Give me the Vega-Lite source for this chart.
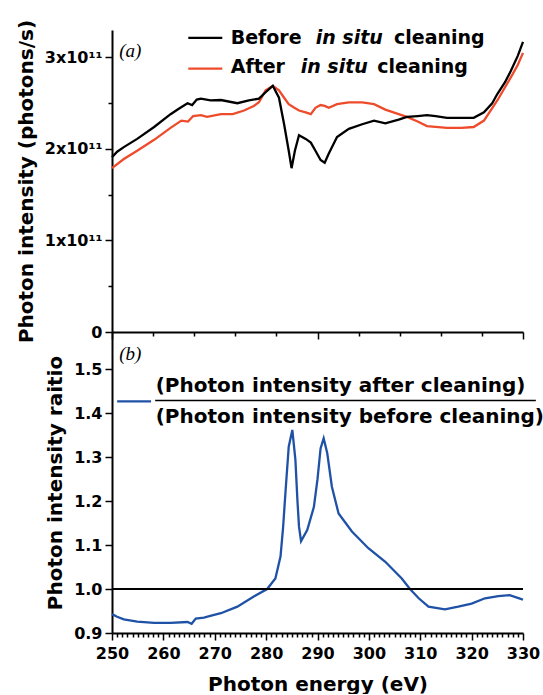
{
  "$schema": "https://vega.github.io/schema/vega-lite/v6.json",
  "padding": {"left": 16, "top": 19, "right": 0, "bottom": 0},
  "spacing": 0,
  "bounds": "flush",
  "config": {
    "view": {"stroke": null},
    "font": "DejaVu Sans",
    "axis": {
      "grid": false,
      "domainColor": "#000000",
      "domainWidth": 2,
      "tickColor": "#000000",
      "tickWidth": 1.5,
      "tickSize": 7,
      "labelColor": "#000000",
      "labelFont": "DejaVu Sans",
      "labelFontSize": 16,
      "labelFontWeight": "bold",
      "labelFlush": false,
      "labelPadding": 3,
      "titleColor": "#000000",
      "titleFont": "DejaVu Sans",
      "titleFontSize": 20,
      "titleFontWeight": "bold"
    }
  },
  "datasets": {
    "intensity": [
      {"series": "After", "energy": 250, "intensity": 1.79e11},
      {"series": "After", "energy": 252.3, "intensity": 1.89e11},
      {"series": "After", "energy": 254.9, "intensity": 1.98e11},
      {"series": "After", "energy": 258.2, "intensity": 2.10e11},
      {"series": "After", "energy": 261.4, "intensity": 2.23e11},
      {"series": "After", "energy": 263.5, "intensity": 2.31e11},
      {"series": "After", "energy": 264.8, "intensity": 2.30e11},
      {"series": "After", "energy": 265.8, "intensity": 2.36e11},
      {"series": "After", "energy": 267.3, "intensity": 2.37e11},
      {"series": "After", "energy": 268.5, "intensity": 2.35e11},
      {"series": "After", "energy": 271.2, "intensity": 2.38e11},
      {"series": "After", "energy": 273.5, "intensity": 2.38e11},
      {"series": "After", "energy": 275.7, "intensity": 2.42e11},
      {"series": "After", "energy": 277.6, "intensity": 2.47e11},
      {"series": "After", "energy": 278.6, "intensity": 2.51e11},
      {"series": "After", "energy": 279.9, "intensity": 2.64e11},
      {"series": "After", "energy": 281.3, "intensity": 2.69e11},
      {"series": "After", "energy": 282.5, "intensity": 2.64e11},
      {"series": "After", "energy": 283.5, "intensity": 2.56e11},
      {"series": "After", "energy": 284.4, "intensity": 2.49e11},
      {"series": "After", "energy": 285.5, "intensity": 2.45e11},
      {"series": "After", "energy": 286.4, "intensity": 2.42e11},
      {"series": "After", "energy": 287.7, "intensity": 2.40e11},
      {"series": "After", "energy": 288.7, "intensity": 2.38e11},
      {"series": "After", "energy": 289.6, "intensity": 2.45e11},
      {"series": "After", "energy": 290.6, "intensity": 2.48e11},
      {"series": "After", "energy": 291.4, "intensity": 2.47e11},
      {"series": "After", "energy": 292.2, "intensity": 2.45e11},
      {"series": "After", "energy": 293.8, "intensity": 2.49e11},
      {"series": "After", "energy": 296.1, "intensity": 2.51e11},
      {"series": "After", "energy": 298.7, "intensity": 2.51e11},
      {"series": "After", "energy": 301.0, "intensity": 2.49e11},
      {"series": "After", "energy": 303.2, "intensity": 2.43e11},
      {"series": "After", "energy": 305.8, "intensity": 2.38e11},
      {"series": "After", "energy": 307.4, "intensity": 2.35e11},
      {"series": "After", "energy": 309.5, "intensity": 2.30e11},
      {"series": "After", "energy": 311.3, "intensity": 2.25e11},
      {"series": "After", "energy": 315.2, "intensity": 2.23e11},
      {"series": "After", "energy": 318.0, "intensity": 2.23e11},
      {"series": "After", "energy": 320.4, "intensity": 2.24e11},
      {"series": "After", "energy": 322.4, "intensity": 2.31e11},
      {"series": "After", "energy": 325.0, "intensity": 2.53e11},
      {"series": "After", "energy": 327.6, "intensity": 2.78e11},
      {"series": "After", "energy": 329.0, "intensity": 2.92e11},
      {"series": "After", "energy": 330, "intensity": 3.05e11},
      {"series": "Before", "energy": 250, "intensity": 1.91e11},
      {"series": "Before", "energy": 251, "intensity": 1.97e11},
      {"series": "Before", "energy": 252.3, "intensity": 2.02e11},
      {"series": "Before", "energy": 254.9, "intensity": 2.11e11},
      {"series": "Before", "energy": 258.2, "intensity": 2.24e11},
      {"series": "Before", "energy": 261.4, "intensity": 2.38e11},
      {"series": "Before", "energy": 263.0, "intensity": 2.44e11},
      {"series": "Before", "energy": 264.7, "intensity": 2.50e11},
      {"series": "Before", "energy": 265.6, "intensity": 2.48e11},
      {"series": "Before", "energy": 266.5, "intensity": 2.54e11},
      {"series": "Before", "energy": 267.3, "intensity": 2.55e11},
      {"series": "Before", "energy": 269.2, "intensity": 2.53e11},
      {"series": "Before", "energy": 271.2, "intensity": 2.535e11},
      {"series": "Before", "energy": 274.4, "intensity": 2.50e11},
      {"series": "Before", "energy": 276.65, "intensity": 2.53e11},
      {"series": "Before", "energy": 278.6, "intensity": 2.55e11},
      {"series": "Before", "energy": 279.9, "intensity": 2.62e11},
      {"series": "Before", "energy": 281.3, "intensity": 2.69e11},
      {"series": "Before", "energy": 282.5, "intensity": 2.56e11},
      {"series": "Before", "energy": 283.5, "intensity": 2.27e11},
      {"series": "Before", "energy": 284.4, "intensity": 1.98e11},
      {"series": "Before", "energy": 284.95, "intensity": 1.79e11},
      {"series": "Before", "energy": 285.6, "intensity": 1.98e11},
      {"series": "Before", "energy": 286.4, "intensity": 2.15e11},
      {"series": "Before", "energy": 287.7, "intensity": 2.11e11},
      {"series": "Before", "energy": 288.7, "intensity": 2.07e11},
      {"series": "Before", "energy": 289.6, "intensity": 1.98e11},
      {"series": "Before", "energy": 290.6, "intensity": 1.88e11},
      {"series": "Before", "energy": 291.4, "intensity": 1.85e11},
      {"series": "Before", "energy": 292.2, "intensity": 1.95e11},
      {"series": "Before", "energy": 293.8, "intensity": 2.13e11},
      {"series": "Before", "energy": 296.1, "intensity": 2.22e11},
      {"series": "Before", "energy": 298.7, "intensity": 2.27e11},
      {"series": "Before", "energy": 301.0, "intensity": 2.31e11},
      {"series": "Before", "energy": 303.2, "intensity": 2.28e11},
      {"series": "Before", "energy": 305.8, "intensity": 2.32e11},
      {"series": "Before", "energy": 307.4, "intensity": 2.35e11},
      {"series": "Before", "energy": 309.5, "intensity": 2.36e11},
      {"series": "Before", "energy": 311.3, "intensity": 2.37e11},
      {"series": "Before", "energy": 313.0, "intensity": 2.36e11},
      {"series": "Before", "energy": 315.2, "intensity": 2.34e11},
      {"series": "Before", "energy": 318.0, "intensity": 2.34e11},
      {"series": "Before", "energy": 320.4, "intensity": 2.34e11},
      {"series": "Before", "energy": 322.4, "intensity": 2.40e11},
      {"series": "Before", "energy": 324.0, "intensity": 2.50e11},
      {"series": "Before", "energy": 325.0, "intensity": 2.60e11},
      {"series": "Before", "energy": 326.5, "intensity": 2.73e11},
      {"series": "Before", "energy": 327.6, "intensity": 2.85e11},
      {"series": "Before", "energy": 329.0, "intensity": 3.02e11},
      {"series": "Before", "energy": 330, "intensity": 3.17e11}
    ],
    "ratio": [
      {"energy": 250, "ratio": 0.943},
      {"energy": 251, "ratio": 0.937},
      {"energy": 252.3, "ratio": 0.931},
      {"energy": 254.9, "ratio": 0.926},
      {"energy": 258.2, "ratio": 0.923},
      {"energy": 261.4, "ratio": 0.923},
      {"energy": 264.7, "ratio": 0.925},
      {"energy": 265.5, "ratio": 0.921},
      {"energy": 266.3, "ratio": 0.933},
      {"energy": 267.9, "ratio": 0.935},
      {"energy": 269.5, "ratio": 0.94},
      {"energy": 271.2, "ratio": 0.945},
      {"energy": 274.4, "ratio": 0.96},
      {"energy": 277.6, "ratio": 0.983},
      {"energy": 280.2, "ratio": 1.0},
      {"energy": 281.8, "ratio": 1.024},
      {"energy": 282.8, "ratio": 1.074},
      {"energy": 283.3, "ratio": 1.14},
      {"energy": 283.8, "ratio": 1.226},
      {"energy": 284.4, "ratio": 1.324},
      {"energy": 285.1, "ratio": 1.362},
      {"energy": 285.7, "ratio": 1.294},
      {"energy": 286.1, "ratio": 1.2},
      {"energy": 286.4, "ratio": 1.142},
      {"energy": 286.8, "ratio": 1.109},
      {"energy": 288.0, "ratio": 1.134},
      {"energy": 289.3, "ratio": 1.187},
      {"energy": 290.0, "ratio": 1.25},
      {"energy": 290.6, "ratio": 1.32},
      {"energy": 291.2, "ratio": 1.343},
      {"energy": 291.9, "ratio": 1.309},
      {"energy": 292.8, "ratio": 1.233},
      {"energy": 294.1, "ratio": 1.172},
      {"energy": 296.7, "ratio": 1.131},
      {"energy": 299.9, "ratio": 1.093},
      {"energy": 303.2, "ratio": 1.062},
      {"energy": 306.4, "ratio": 1.024},
      {"energy": 308.0, "ratio": 1.0},
      {"energy": 309.7, "ratio": 0.979},
      {"energy": 311.6, "ratio": 0.96},
      {"energy": 314.8, "ratio": 0.954},
      {"energy": 317.4, "ratio": 0.96},
      {"energy": 320.0, "ratio": 0.967},
      {"energy": 322.6, "ratio": 0.979},
      {"energy": 325.2, "ratio": 0.984},
      {"energy": 327.4, "ratio": 0.986},
      {"energy": 329.7, "ratio": 0.977},
      {"energy": 330, "ratio": 0.976}
    ],
    "one": [{}]
  },
  "vconcat": [
    {
      "width": 411,
      "height": 302,
      "layer": [
        {
          "data": {"name": "intensity"},
          "mark": {"type": "line", "strokeWidth": 2.3},
          "encoding": {
            "x": {
              "field": "energy", "type": "quantitative",
              "scale": {"domain": [250, 330], "nice": false, "zero": false},
              "axis": {
                "title": null, "labels": false,
                "values": [250,251,252,253,254,255,256,257,258,259,260,261,262,263,264,265,266,267,268,269,270,271,272,273,274,275,276,277,278,279,280,281,282,283,284,285,286,287,288,289,290,291,292,293,294,295,296,297,298,299,300,301,302,303,304,305,306,307,308,309,310,311,312,313,314,315,316,317,318,319,320,321,322,323,324,325,326,327,328,329,330],
                "tickSize": 7,
                "tickDash": {"condition": {"test": "datum.value % 10 === 0", "value": [10, 0]}, "value": [4, 10]}
              }
            },
            "y": {
              "field": "intensity", "type": "quantitative",
              "scale": {"domain": [0, 3.3e11], "nice": false, "zero": true},
              "axis": {
                "title": "Photon intensity (photons/s)",
                "titlePadding": 8,
                "values": [0, 5e10, 1e11, 1.5e11, 2e11, 2.5e11, 3e11],
                "labelExpr": "datum.value === 0 ? '0' : (datum.value % 1e11 === 0 ? format(datum.value / 1e11, 'd') + 'x10¹¹' : '')",
                "tickSize": 7,
                "tickDash": {"condition": {"test": "datum.value % 1e11 === 0", "value": [10, 0]}, "value": [4, 10]}
              }
            },
            "color": {
              "field": "series", "type": "nominal",
              "scale": {"domain": ["Before", "After"], "range": ["#000000", "#ee4b2b"]},
              "legend": null
            },
            "order": {"field": "energy", "type": "quantitative"}
          }
        },
        {
          "data": {"name": "one"},
          "mark": {"type": "rule", "color": "#000000", "strokeWidth": 2.3},
          "encoding": {"x": {"datum": 264.85}, "x2": {"datum": 271.47}, "y": {"datum": 3.215e11}}
        },
        {
          "data": {"name": "one"},
          "mark": {"type": "rule", "color": "#ee4b2b", "strokeWidth": 2.3},
          "encoding": {"x": {"datum": 264.85}, "x2": {"datum": 271.47}, "y": {"datum": 2.877e11}}
        },
        {
          "data": {"name": "one"},
          "mark": {"type": "text", "text": "Before", "align": "left", "baseline": "middle", "fontSize": 19, "fontWeight": "bold", "font": "DejaVu Sans"},
          "encoding": {"x": {"datum": 273.1}, "y": {"datum": 3.215e11}}
        },
        {
          "data": {"name": "one"},
          "mark": {"type": "text", "text": "in situ", "align": "left", "baseline": "middle", "fontSize": 19, "fontWeight": "bold", "fontStyle": "italic", "font": "DejaVu Sans"},
          "encoding": {"x": {"datum": 289.65}, "y": {"datum": 3.215e11}}
        },
        {
          "data": {"name": "one"},
          "mark": {"type": "text", "text": "cleaning", "align": "left", "baseline": "middle", "fontSize": 19, "fontWeight": "bold", "font": "DejaVu Sans"},
          "encoding": {"x": {"datum": 304.89}, "y": {"datum": 3.215e11}}
        },
        {
          "data": {"name": "one"},
          "mark": {"type": "text", "text": "After", "align": "left", "baseline": "middle", "fontSize": 19, "fontWeight": "bold", "font": "DejaVu Sans"},
          "encoding": {"x": {"datum": 273.1}, "y": {"datum": 2.898e11}}
        },
        {
          "data": {"name": "one"},
          "mark": {"type": "text", "text": "in situ", "align": "left", "baseline": "middle", "fontSize": 19, "fontWeight": "bold", "fontStyle": "italic", "font": "DejaVu Sans"},
          "encoding": {"x": {"datum": 286.73}, "y": {"datum": 2.898e11}}
        },
        {
          "data": {"name": "one"},
          "mark": {"type": "text", "text": "cleaning", "align": "left", "baseline": "middle", "fontSize": 19, "fontWeight": "bold", "font": "DejaVu Sans"},
          "encoding": {"x": {"datum": 301.64}, "y": {"datum": 2.898e11}}
        },
        {
          "data": {"name": "one"},
          "mark": {"type": "text", "text": "(a)", "align": "left", "baseline": "middle", "fontSize": 19, "fontStyle": "italic", "font": "Liberation Serif"},
          "encoding": {"x": {"datum": 251.4}, "y": {"datum": 3.07e11}}
        }
      ]
    },
    {
      "width": 411,
      "height": 301,
      "resolve": {"axis": {"x": "independent"}},
      "layer": [
        {
          "data": {"name": "ratio"},
          "mark": {"type": "line", "color": "#1f52a6", "strokeWidth": 2.3},
          "encoding": {
            "x": {
              "field": "energy", "type": "quantitative",
              "scale": {"domain": [250, 330], "nice": false, "zero": false},
              "axis": {
                "orient": "bottom",
                "title": "Photon energy (eV)",
                "titlePadding": 13,
                "labelPadding": 5,
                "values": [250, 260, 270, 280, 290, 300, 310, 320, 330],
                "tickSize": 7
              }
            },
            "y": {
              "field": "ratio", "type": "quantitative",
              "scale": {"domain": [0.9, 1.585], "nice": false, "zero": false},
              "axis": {
                "title": "Photon intensity raitio",
                "titlePadding": 8,
                "values": [0.9, 0.95, 1.0, 1.05, 1.1, 1.15, 1.2, 1.25, 1.3, 1.35, 1.4, 1.45, 1.5, 1.55],
                "labelExpr": "abs(datum.value * 10 - round(datum.value * 10)) < 0.01 ? format(datum.value, '.1f') : ''",
                "tickSize": 7,
                "tickDash": {"condition": {"test": "abs(datum.value * 10 - round(datum.value * 10)) < 0.01", "value": [10, 0]}, "value": [4, 10]}
              }
            }
          }
        },
        {
          "data": {"name": "one"},
          "mark": {"type": "rule", "color": "#000000", "strokeWidth": 2},
          "encoding": {
            "x": {
              "datum": 250,
              "axis": {
                "orient": "bottom",
                "title": null,
                "labels": false,
                "domain": false,
                "values": [251,252,253,254,255,256,257,258,259,261,262,263,264,265,266,267,268,269,271,272,273,274,275,276,277,278,279,281,282,283,284,285,286,287,288,289,291,292,293,294,295,296,297,298,299,301,302,303,304,305,306,307,308,309,311,312,313,314,315,316,317,318,319,321,322,323,324,325,326,327,328,329],
                "tickSize": 4
              }
            },
            "x2": {"datum": 330},
            "y": {"datum": 1.0}
          }
        },
        {
          "data": {"name": "one"},
          "mark": {"type": "rule", "color": "#1f52a6", "strokeWidth": 2.3},
          "encoding": {"x": {"datum": 251.0, "axis": null}, "x2": {"datum": 257.6}, "y": {"datum": 1.427}}
        },
        {
          "data": {"name": "one"},
          "mark": {"type": "rule", "color": "#000000", "strokeWidth": 1.5},
          "encoding": {"x": {"datum": 258.4, "axis": null}, "x2": {"datum": 332.5}, "y": {"datum": 1.429}}
        },
        {
          "data": {"name": "one"},
          "mark": {"type": "text", "text": "(Photon intensity after cleaning)", "align": "left", "baseline": "middle", "fontSize": 20, "fontWeight": "bold", "font": "DejaVu Sans"},
          "encoding": {"x": {"datum": 258.5, "axis": null}, "y": {"datum": 1.461}}
        },
        {
          "data": {"name": "one"},
          "mark": {"type": "text", "text": "(Photon intensity before cleaning)", "align": "left", "baseline": "middle", "fontSize": 20, "fontWeight": "bold", "font": "DejaVu Sans"},
          "encoding": {"x": {"datum": 258.5, "axis": null}, "y": {"datum": 1.392}}
        },
        {
          "data": {"name": "one"},
          "mark": {"type": "text", "text": "(b)", "align": "left", "baseline": "middle", "fontSize": 19, "fontStyle": "italic", "font": "Liberation Serif"},
          "encoding": {"x": {"datum": 251.4, "axis": null}, "y": {"datum": 1.535}}
        }
      ]
    }
  ]
}
